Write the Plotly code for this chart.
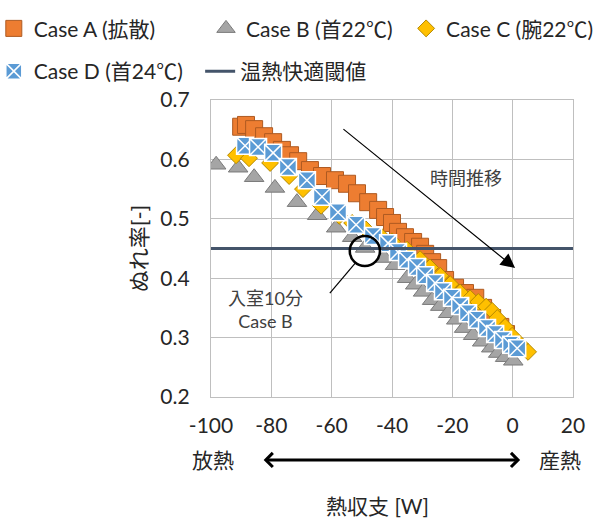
import plotly.graph_objects as go

# ---------------- data ----------------
caseA_x = [-90.0, -88.4, -85.7, -82.4, -79.4, -76.5, -73.8, -71.1, -67.2, -63.2, -58.9, -54.9,
           -51.6, -47.9, -44.6, -42.3, -40.0, -38.0, -35.7, -33.0, -30.7, -29.0, -26.7, -24.7,
           -22.4, -19.1, -15.8, -12.4, -9.8, -6.8, -4.1, -2.2]
caseA_y = [0.655, 0.658, 0.651, 0.639, 0.629, 0.616, 0.607, 0.597, 0.582, 0.572, 0.565, 0.559,
           0.543, 0.528, 0.515, 0.503, 0.493, 0.478, 0.469, 0.461, 0.453, 0.441, 0.427, 0.417,
           0.397, 0.384, 0.375, 0.367, 0.350, 0.333, 0.318, 0.306]

caseB_x = [-98.3, -91.0, -85.7, -78.8, -71.5, -64.8, -58.5, -53.2, -48.9, -42.6, -39.0, -35.0,
           -32.3, -29.7, -26.7, -24.0, -21.4, -18.7, -16.1, -13.1, -10.1, -7.1, -4.8, -2.5, 0.2]
caseB_y = [0.591, 0.586, 0.570, 0.552, 0.528, 0.506, 0.485, 0.469, 0.451, 0.434, 0.422, 0.400,
           0.389, 0.377, 0.363, 0.353, 0.341, 0.330, 0.316, 0.304, 0.293, 0.283, 0.274, 0.267, 0.261]

caseC_x = [-91.7, -87.4, -80.4, -74.1, -69.5, -63.5, -57.5, -53.2, -48.6, -43.9, -40.0, -35.0,
           -30.7, -27.4, -24.0, -20.7, -17.4, -14.1, -11.4, -8.8, -6.8, -5.1, -2.5, -0.2, 2.5, 5.1]
caseC_y = [0.607, 0.602, 0.594, 0.572, 0.550, 0.522, 0.505, 0.493, 0.482, 0.472, 0.462, 0.448,
           0.432, 0.418, 0.404, 0.390, 0.376, 0.366, 0.360, 0.352, 0.345, 0.333, 0.318, 0.303,
           0.289, 0.276]

caseD_x = [-88.7, -84.4, -79.4, -74.5, -68.2, -63.2, -57.9, -51.9, -46.3, -41.3, -38.0, -35.0,
           -31.7, -29.0, -25.7, -23.1, -20.1, -17.4, -14.8, -11.8, -8.5, -5.8, -3.2, -0.5, 1.5]
caseD_y = [0.623, 0.621, 0.611, 0.587, 0.565, 0.537, 0.511, 0.490, 0.471, 0.459, 0.444, 0.431,
           0.419, 0.405, 0.392, 0.378, 0.367, 0.353, 0.341, 0.330, 0.316, 0.306, 0.296, 0.288, 0.282]

threshold = 0.45
x_range = [-100, 20]
y_range = [0.2, 0.7]
x_ticks = [-100, -80, -60, -40, -20, 0, 20]
x_ticktext = ["-100", "-80", "-60", "-40", "-20", "0", "20"]
y_ticks = [0.2, 0.3, 0.4, 0.5, 0.6, 0.7]

names = ["Case A (拡散)", "Case B (首22℃)", "Case C (腕22℃)", "Case D (首24℃)", "温熱快適閾値"]

FONT = "Lato, 'Noto Sans CJK JP', sans-serif"
TXT = "#262626"

fig = go.Figure()
fig.add_trace(go.Scatter(x=caseA_x, y=caseA_y, mode="markers", name=names[0], legend="legend",
                         marker=dict(symbol="square", size=17, color="#ED7D31",
                                     line=dict(color="#AE5A21", width=1))))
fig.add_trace(go.Scatter(x=caseB_x, y=caseB_y, mode="markers", name=names[1], legend="legend2",
                         marker=dict(symbol="triangle-up", size=17, color="#A5A5A5",
                                     line=dict(color="#7A7A7A", width=1))))
fig.add_trace(go.Scatter(x=caseC_x, y=caseC_y, mode="markers", name=names[2], legend="legend3",
                         marker=dict(symbol="diamond", size=13, color="#FFC000",
                                     line=dict(color="#B58900", width=1))))
fig.add_trace(go.Scatter(x=caseD_x, y=caseD_y, mode="markers", name=names[3], legend="legend4",
                         marker=dict(symbol="square-x", size=17, color="#5B9BD5",
                                     line=dict(color="white", width=1.5))))
fig.add_trace(go.Scatter(x=x_range, y=[threshold, threshold], mode="lines", name=names[4],
                         legend="legend5", line=dict(color="#44546A", width=3)))

# time arrow
fig.add_annotation(x=0.8, y=0.417, ax=-56.6, ay=0.653, xref="x", yref="y", axref="x", ayref="y",
                   text="", showarrow=True, arrowhead=2, arrowsize=2.4, arrowwidth=1.2,
                   arrowcolor="black")
fig.add_annotation(x=-15.5, y=0.569, xref="x", yref="y", text="時間推移", showarrow=False,
                   xanchor="center", yanchor="middle",
                   font=dict(size=18, color="#404040", family=FONT))

# circle and leader
fig.add_shape(type="circle", xref="x", yref="y", x0=-54.0, x1=-44.0, y0=0.4205, y1=0.4710,
              line=dict(color="black", width=2.5))
fig.add_shape(type="line", xref="x", yref="y", x0=-60.6, y0=0.375, x1=-51.9, y1=0.427,
              line=dict(color="black", width=1.2))
fig.add_annotation(x=-82.1, y=0.347, xref="x", yref="y", text="入室10分<br>Case B",
                   showarrow=False, xanchor="center", yanchor="middle",
                   font=dict(size=18, color="#404040", family=FONT))

# bottom labels (outside the plot: paper coordinates)
fig.add_annotation(x=0.0055, y=-0.212, xref="paper", yref="paper", text="放熱", showarrow=False,
                   xanchor="center", yanchor="middle", font=dict(size=21, color=TXT, family=FONT))
fig.add_annotation(x=0.964, y=-0.212, xref="paper", yref="paper", text="産熱", showarrow=False,
                   xanchor="center", yanchor="middle", font=dict(size=21, color=TXT, family=FONT))
fig.add_annotation(x=0.854, y=-0.212, xref="paper", yref="paper", axref="pixel", ayref="pixel",
                   ax=-258, ay=0, text="", showarrow=True, arrowhead=4, arrowside="end+start",
                   arrowsize=0.9, arrowwidth=3, arrowcolor="black")
fig.add_annotation(x=0.459, y=-0.365, xref="paper", yref="paper", text="熱収支 [W]",
                   showarrow=False, xanchor="center", yanchor="middle",
                   font=dict(size=21, color=TXT, family=FONT))


def leg(x, y):
    return dict(xref="paper", yref="paper", x=x, y=y, xanchor="left", yanchor="top",
                orientation="h", bgcolor="rgba(0,0,0,0)", itemwidth=30,
                font=dict(size=21, color=TXT, family=FONT))


fig.update_layout(
    width=604, height=518,
    margin=dict(l=211, r=31, t=100, b=121, autoexpand=False),
    paper_bgcolor="white", plot_bgcolor="white",
    font=dict(family=FONT, size=20, color=TXT),
    showlegend=True,
    legend=leg(-0.600, 1.309),
    legend2=leg(-0.0138, 1.309),
    legend3=leg(0.539, 1.309),
    legend4=leg(-0.600, 1.165),
    legend5=leg(-0.030, 1.165),
    xaxis=dict(range=x_range, tickvals=x_ticks, ticktext=x_ticktext, showgrid=True,
               gridcolor="#BFBFBF", gridwidth=1.3, zeroline=False, showline=True,
               linecolor="#BFBFBF", linewidth=1.3, mirror=True, ticks="",
               ticklabelstandoff=10, tickfont=dict(size=21, color=TXT)),
    yaxis=dict(range=y_range, tickvals=y_ticks, tickformat=".1f", showgrid=True,
               gridcolor="#BFBFBF", gridwidth=1.3, zeroline=False, showline=True,
               linecolor="#BFBFBF", linewidth=1.3, mirror=True, ticks="",
               ticklabelstandoff=16, tickfont=dict(size=21, color=TXT),
               title=dict(text="ぬれ率[-]", font=dict(size=22, color=TXT), standoff=6)),
)

fig.write_html("out.html", config={"displayModeBar": False},
               post_script="document.body.style.margin='0px';")
